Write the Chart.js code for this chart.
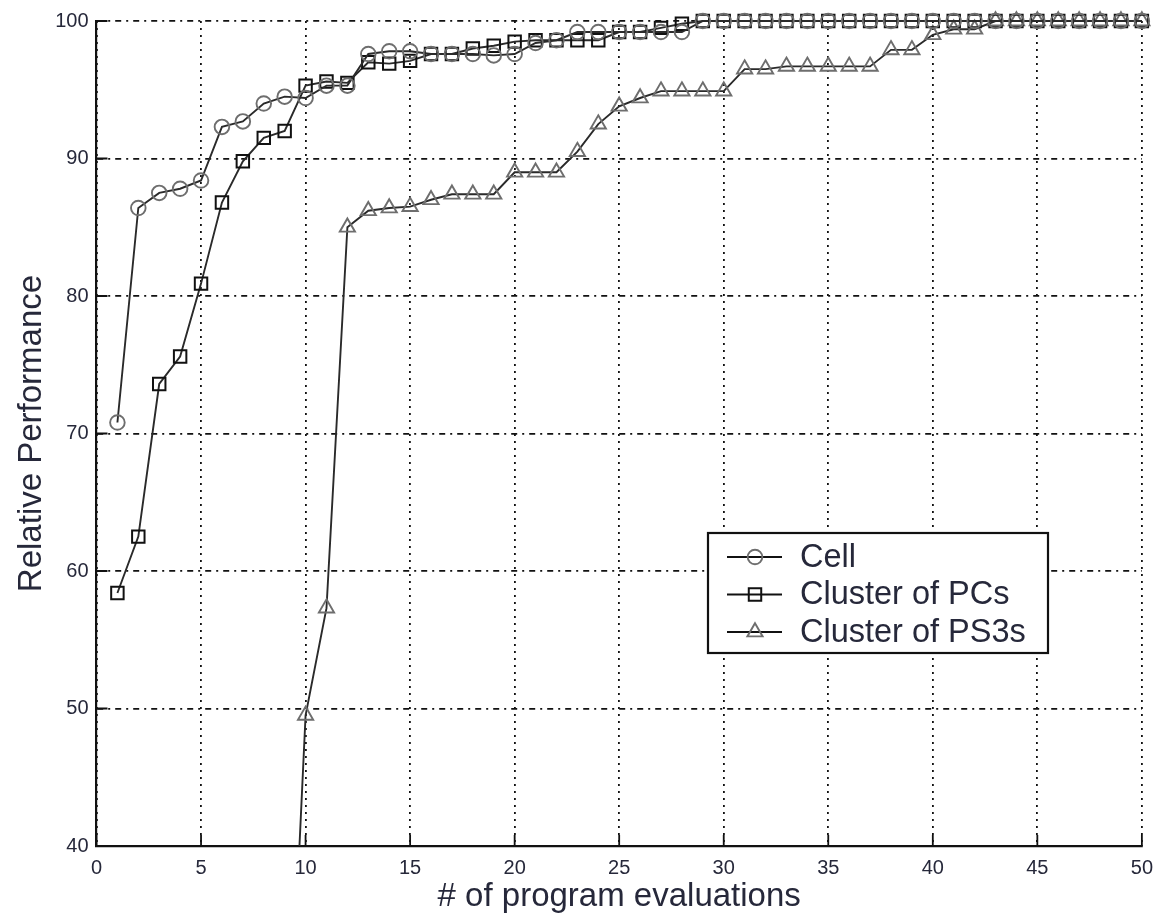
<!DOCTYPE html>
<html>
<head>
<meta charset="utf-8">
<title>Relative Performance</title>
<script src="https://cdn.jsdelivr.net/npm/chart.js@4.4.0/dist/chart.umd.min.js"></script>
<style>
  body { margin: 0; background: #fff; }
  #wrap { width: 1163px; height: 914px; }
</style>
</head>
<body>
<div id="wrap"><canvas id="myChart" width="1163" height="914"></canvas></div>
<script>
const evals = [1, 2, 3, 4, 5, 6, 7, 8, 9, 10, 11, 12, 13, 14, 15, 16, 17, 18, 19, 20,
  21, 22, 23, 24, 25, 26, 27, 28, 29, 30, 31, 32, 33, 34, 35, 36, 37, 38, 39, 40,
  41, 42, 43, 44, 45, 46, 47, 48, 49, 50];

const cell = [70.8, 86.4, 87.5, 87.8, 88.4, 92.3, 92.7, 94.0, 94.5, 94.4,
  95.3, 95.3, 97.6, 97.8, 97.8, 97.6, 97.6, 97.6, 97.5, 97.6,
  98.4, 98.6, 99.2, 99.2, 99.2, 99.2, 99.2, 99.2, 100, 100,
  100, 100, 100, 100, 100, 100, 100, 100, 100, 100,
  100, 100, 100, 100, 100, 100, 100, 100, 100, 100];

const pcs = [58.4, 62.5, 73.6, 75.6, 80.9, 86.8, 89.8, 91.5, 92.0, 95.3,
  95.6, 95.5, 97.0, 96.9, 97.1, 97.6, 97.6, 98.0, 98.2, 98.5,
  98.6, 98.6, 98.6, 98.6, 99.2, 99.2, 99.5, 99.8, 100, 100,
  100, 100, 100, 100, 100, 100, 100, 100, 100, 100,
  100, 100, 100, 100, 100, 100, 100, 100, 100, 100];

// PS3 series starts at evaluation 9 (first point falls below the axis)
const ps3Evals = [9, 10, 11, 12, 13, 14, 15, 16, 17, 18, 19, 20,
  21, 22, 23, 24, 25, 26, 27, 28, 29, 30, 31, 32, 33, 34, 35, 36, 37, 38, 39, 40,
  41, 42, 43, 44, 45, 46, 47, 48, 49, 50];
const ps3 = [17, 49.5, 57.3, 85.0, 86.2, 86.4, 86.5, 87.0, 87.4, 87.4, 87.4, 89.0,
  89.0, 89.0, 90.5, 92.5, 93.8, 94.4, 94.9, 94.9, 94.9, 94.9, 96.5, 96.5, 96.7, 96.7,
  96.7, 96.7, 96.7, 97.9, 97.9, 99.0, 99.4, 99.4, 100, 100, 100, 100, 100, 100, 100, 100];

const xTicks = [0, 5, 10, 15, 20, 25, 30, 35, 40, 45, 50];
const yTicks = [40, 50, 60, 70, 80, 90, 100];

const FONT = '"Liberation Sans", Arial, Helvetica, sans-serif';
const TEXT = '#26283a';
const INK = '#111';

function pts(xs, ys) {
  return xs.map((x, i) => ({x: x, y: ys[i]}));
}

const clipArea = {left: 0, top: 12, right: 12, bottom: 0};

const data = {
  datasets: [
    {
      label: 'Cell',
      data: pts(evals, cell),
      borderColor: '#2a2a2a',
      borderWidth: 1.9,
      pointStyle: 'circle',
      pointRadius: 7.3,
      pointBorderColor: '#6e6e6e',
      pointBorderWidth: 1.9,
      pointBackgroundColor: 'rgba(0,0,0,0)',
      clip: clipArea
    },
    {
      label: 'Cluster of PCs',
      data: pts(evals, pcs),
      borderColor: '#2a2a2a',
      borderWidth: 1.9,
      pointStyle: 'rect',
      pointRadius: 8.8,
      pointBorderColor: '#111',
      pointBorderWidth: 2,
      pointBackgroundColor: 'rgba(0,0,0,0)',
      clip: clipArea
    },
    {
      label: 'Cluster of PS3s',
      data: pts(ps3Evals, ps3),
      borderColor: '#2a2a2a',
      borderWidth: 1.9,
      pointStyle: 'triangle',
      pointRadius: 8.8,
      pointBorderColor: '#6e6e6e',
      pointBorderWidth: 1.9,
      pointBackgroundColor: 'rgba(0,0,0,0)',
      clip: clipArea
    }
  ]
};

// small inward tick marks on the left and bottom axes
const innerTicks = {
  id: 'innerTicks',
  afterDraw(chart) {
    const {ctx, chartArea, scales} = chart;
    ctx.save();
    ctx.strokeStyle = INK;
    ctx.lineWidth = 1.8;
    ctx.beginPath();
    xTicks.forEach(v => {
      const px = scales.x.getPixelForValue(v);
      ctx.moveTo(px, chartArea.bottom);
      ctx.lineTo(px, chartArea.bottom - 11);
    });
    yTicks.forEach(v => {
      const py = scales.y.getPixelForValue(v);
      ctx.moveTo(chartArea.left, py);
      ctx.lineTo(chartArea.left + 11, py);
    });
    ctx.stroke();
    ctx.restore();
  }
};

function marker(ctx, style, x, y, r) {
  ctx.beginPath();
  if (style === 'circle') {
    ctx.arc(x, y, r, 0, Math.PI * 2);
  } else if (style === 'rect') {
    const s = r * Math.SQRT1_2;
    ctx.rect(x - s, y - s, 2 * s, 2 * s);
  } else {
    const a = -Math.PI / 2;
    ctx.moveTo(x + Math.cos(a) * r, y + Math.sin(a) * r);
    ctx.lineTo(x + Math.cos(a + 2 * Math.PI / 3) * r, y + Math.sin(a + 2 * Math.PI / 3) * r);
    ctx.lineTo(x + Math.cos(a + 4 * Math.PI / 3) * r, y + Math.sin(a + 4 * Math.PI / 3) * r);
    ctx.closePath();
  }
  ctx.stroke();
}

// boxed legend inside the plot, lower right
const boxLegend = {
  id: 'boxLegend',
  afterDraw(chart) {
    const ctx = chart.ctx;
    const left = 708, top = 533, w = 340, h = 120;
    ctx.save();
    ctx.fillStyle = '#fff';
    ctx.fillRect(left, top, w, h);
    ctx.strokeStyle = INK;
    ctx.lineWidth = 2.2;
    ctx.strokeRect(left, top, w, h);
    ctx.font = '32.5px ' + FONT;
    ctx.textBaseline = 'middle';
    chart.data.datasets.forEach((ds, i) => {
      const y = 557 + i * 37.5;
      ctx.strokeStyle = '#111';
      ctx.lineWidth = 2;
      ctx.beginPath();
      ctx.moveTo(727, y);
      ctx.lineTo(782, y);
      ctx.stroke();
      ctx.strokeStyle = ds.pointBorderColor;
      ctx.lineWidth = ds.pointBorderWidth;
      marker(ctx, ds.pointStyle, 755, y, ds.pointRadius);
      ctx.fillStyle = TEXT;
      ctx.fillText(ds.label, 800, y + 1);
    });
    ctx.restore();
  }
};

const config = {
  type: 'line',
  data: data,
  options: {
    responsive: false,
    animation: false,
    layout: {padding: {top: 21, right: 15, left: 0, bottom: 0}},
    plugins: {
      legend: {display: false},
      tooltip: {enabled: false}
    },
    scales: {
      x: {
        type: 'linear',
        min: 0,
        max: 50,
        afterBuildTicks(scale) { scale.ticks = xTicks.map(v => ({value: v})); },
        afterFit(scale) { scale.height = 68; },
        ticks: {color: TEXT, padding: 10, font: {family: FONT, size: 20}},
        grid: {color: INK, lineWidth: 1.8, drawTicks: false},
        border: {display: true, color: INK, width: 2.2, dash: [2, 5]},
        title: {
          display: true,
          text: '# of program evaluations',
          color: TEXT,
          font: {family: FONT, size: 33, lineHeight: 1.0},
          padding: {top: 0, bottom: 1}
        }
      },
      y: {
        min: 40,
        max: 100,
        afterBuildTicks(scale) { scale.ticks = yTicks.map(v => ({value: v})); },
        afterFit(scale) { scale.width = 96.5; },
        ticks: {color: TEXT, padding: 8, font: {family: FONT, size: 20}},
        grid: {color: INK, lineWidth: 1.8, drawTicks: false},
        border: {display: true, color: INK, width: 2.2, dash: [6, 5, 2, 5]},
        title: {
          display: true,
          text: 'Relative Performance',
          color: TEXT,
          font: {family: FONT, size: 33, lineHeight: 1.0},
          padding: {top: 15, bottom: 0}
        }
      }
    }
  },
  plugins: [innerTicks, boxLegend]
};

const myChart = new Chart(document.getElementById('myChart'), config);
</script>
</body>
</html>
